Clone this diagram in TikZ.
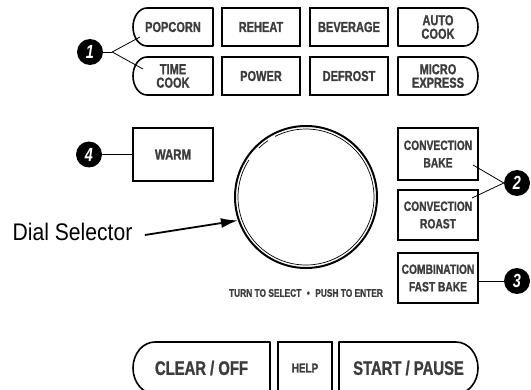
\documentclass[tikz,border=0pt]{standalone}
\usepackage{fontspec}
\newfontfamily\keyfont[FakeStretch=0.76, BoldFeatures={FakeBold=1.2}]{Liberation Sans}
\newfontfamily\labelfont[FakeStretch=0.88]{Liberation Sans}
\usetikzlibrary{calc,arrows.meta}
\definecolor{keytext}{HTML}{3C3C3C}

\begin{document}
\begin{tikzpicture}[x=1pt, y=1pt,
    btn/.style={draw, line width=1.6pt, minimum width=80, minimum height=38,
        inner sep=0, outer sep=0, align=center, text=keytext,
        font=\keyfont\bfseries\fontsize{14.5}{13.5}\selectfont},
    capbtn/.style={btn, draw=none},
    tallbtn/.style={btn, minimum height=51,
        font=\keyfont\bfseries\fontsize{13.5}{17.5}\selectfont},
    bigbtn/.style={capbtn, minimum height=52,
        font=\keyfont\bfseries\fontsize{19.5}{19.5}\selectfont},
    badge/.style={circle, fill=black, text=white, minimum size=26, inner sep=0,
        font=\keyfont\bfseries\itshape\fontsize{19}{19}\selectfont},
    lead/.style={line width=0.8pt},
    outline/.style={line width=1.6pt, line join=round}]

    % --- 1. Parameters ---
    \def\capR{14}   % end curve of the top keys
    \def\capH{19}
    \def\pillR{22}  % end curve of the bottom keys
    \def\pillH{26}

    \useasboundingbox (0,0) rectangle (531,389);

    % --- 2. Top key rows ---
    \node[capbtn] (pop) at (173,362) {POPCORN};
    \node[btn, minimum width=78] (reh) at (261,362) {REHEAT};
    \node[btn, minimum width=78] (bev) at (349,362) {BEVERAGE};
    \node[capbtn] (auto) at (438,362) {AUTO\\COOK};

    \node[capbtn] (time) at (173,313) {TIME\\COOK};
    \node[btn, minimum width=78] (pow) at (261,313) {POWER};
    \node[btn, minimum width=78] (defr) at (349,313) {DEFROST};
    \node[capbtn] (micro) at (438,313) {MICRO\\EXPRESS};

    % rounded ends
    \foreach \k in {pop,time}
        \draw[outline] (\k.north east) -- ([xshift=\capR]\k.north west)
            arc[start angle=90, end angle=270, x radius=\capR, y radius=\capH]
            -- (\k.south east) -- cycle;
    \foreach \k in {auto,micro}
        \draw[outline] (\k.north west) -- ([xshift=-\capR]\k.north east)
            arc[start angle=90, end angle=-90, x radius=\capR, y radius=\capH]
            -- (\k.south west) -- cycle;

    % --- 3. Middle section ---
    \node[btn, minimum height=53, font=\keyfont\bfseries\fontsize{15}{15}\selectfont] (warm) at (173,234.5) {WARM};

    \node[draw, circle, line width=2pt, minimum size=142, inner sep=0] (dial) at (306,192) {};
    \draw[line width=0.7pt] (dial.center) ++(147:68) arc[start angle=147, end angle=477, radius=68];
    \draw[line width=0.7pt] (dial.center) ++(124:68) arc[start angle=124, end angle=134, radius=68];

    \node[font=\keyfont\bfseries\fontsize{11}{11}\selectfont, text=keytext] (hint)
        at (306,96) {TURN TO SELECT\enspace•\enspace PUSH TO ENTER};

    \node[font=\labelfont\fontsize{24}{24}\selectfont] (dsel) at (72.5,157) {Dial Selector};
    \draw[line width=1.8pt, -{Latex[length=17, width=10]}] ($(dsel.east)+(9,-3)$) -- (dial.199);

    \node[tallbtn, minimum height=52] (cbake) at (438,235) {CONVECTION\\BAKE};
    \node[tallbtn, minimum height=50] (croast) at (438,174) {CONVECTION\\ROAST};
    \node[tallbtn, minimum height=50] (comb) at (438,111) {COMBINATION\\FAST BAKE};

    % --- 4. Bottom key row ---
    \begin{scope}
        \clip (0,0) rectangle (531,389);
        \node[bigbtn, minimum width=137] (clr) at (201.5,21) {CLEAR / OFF};
        \node[btn, minimum width=54, minimum height=52,
            font=\keyfont\bfseries\fontsize{13}{13}\selectfont] (help) at (305,21) {HELP};
        \node[bigbtn, minimum width=139] (start) at (408.5,21) {START / PAUSE};
        \draw[outline] (clr.north east) -- ([xshift=\pillR]clr.north west)
            arc[start angle=90, end angle=270, x radius=\pillR, y radius=\pillH]
            -- (clr.south east) -- cycle;
        \draw[outline] (start.north west) -- ([xshift=-\pillR]start.north east)
            arc[start angle=90, end angle=-90, x radius=\pillR, y radius=\pillH]
            -- (start.south west) -- cycle;
    \end{scope}

    % --- 5. Callouts ---
    \node[badge] (b1) at (90,337) {1};
    \node[badge] (b4) at (89,234.5) {4};
    \node[badge] (b2) at (517,206) {2};
    \node[badge] (b3) at (517,108) {3};

    \draw[lead] (b1.east) -- ++(9,0) coordinate (fork);
    \draw[lead] (fork) -- ($(pop.west)+(7,-10)$);
    \draw[lead] (fork) -- ($(time.west)+(10,7)$);
    \draw[lead] (b4) -- (warm.west);
    \draw[lead] (b2.west) -- ($(cbake.east)+(-5,-11)$);
    \draw[lead] (b2.west) -- ($(croast.east)+(-6,17)$);
    \draw[lead] (b3) -- (b3 -| comb.east);
\end{tikzpicture}
\end{document}
